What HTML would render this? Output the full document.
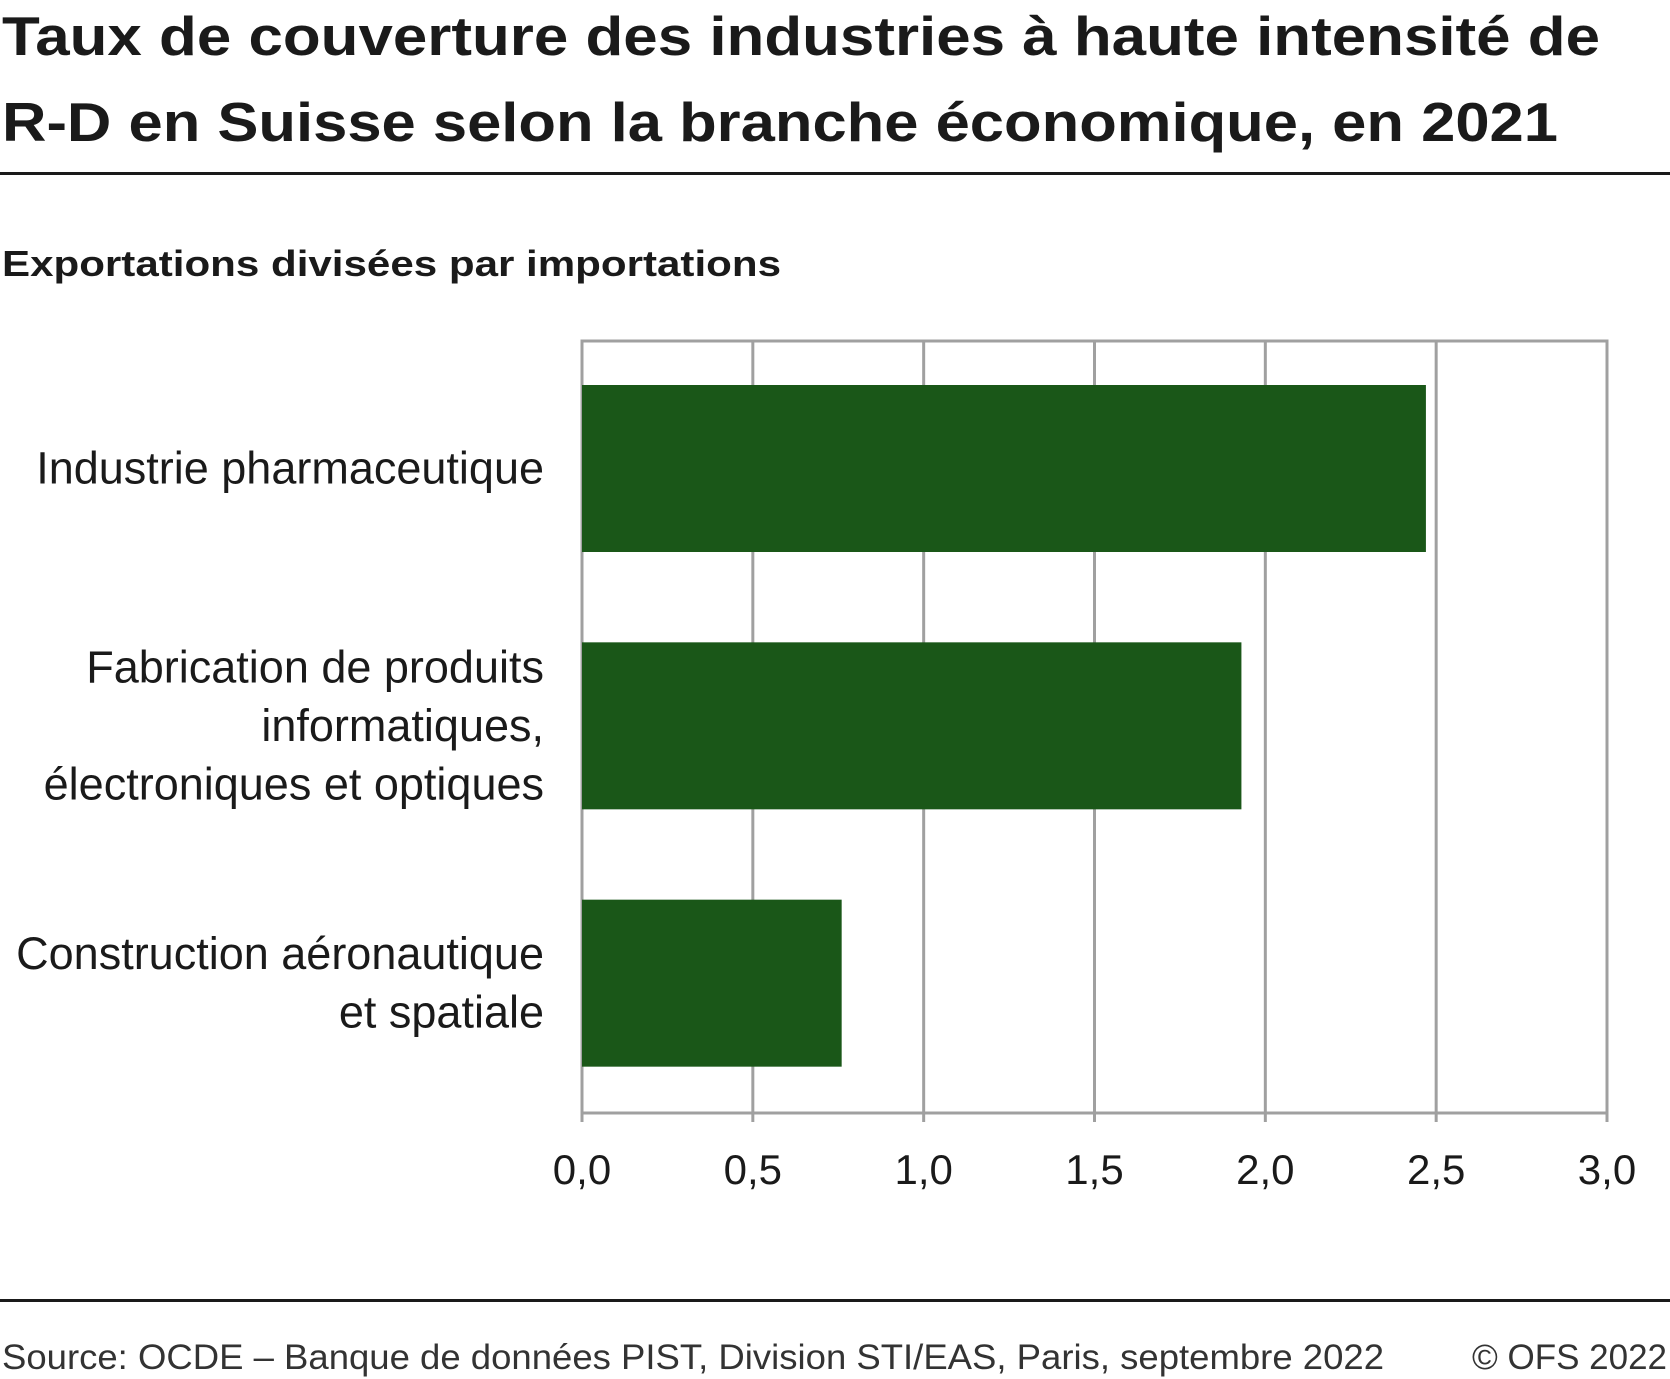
<!DOCTYPE html>
<html><head><meta charset="utf-8"><style>body{margin:0;background:#fff}svg{display:block}</style></head>
<body>
<svg id="chart" width="1670" height="1379" xmlns="http://www.w3.org/2000/svg" font-family="'Liberation Sans', sans-serif">
<text x="2" y="55" font-size="55" font-weight="bold" fill="#1a1a1a" textLength="1598" lengthAdjust="spacingAndGlyphs">Taux de couverture des industries à haute intensité de</text>
<text x="2" y="141" font-size="55" font-weight="bold" fill="#1a1a1a" textLength="1556" lengthAdjust="spacingAndGlyphs">R-D en Suisse selon la branche économique, en 2021</text>
<rect x="0" y="172" width="1670" height="3" fill="#1a1a1a"/>
<text x="2" y="276" font-size="36" font-weight="bold" fill="#1a1a1a" textLength="779" lengthAdjust="spacingAndGlyphs">Exportations divisées par importations</text>
<g id="grid"></g>
<g id="bars"></g>
<g id="labels"></g>
<g id="ticks"></g>
<rect x="0" y="1299" width="1670" height="3" fill="#1a1a1a"/>
<text x="2" y="1369" font-size="35" fill="#333" textLength="1382" lengthAdjust="spacingAndGlyphs">Source: OCDE – Banque de données PIST, Division STI/EAS, Paris, septembre 2022</text>
<text x="1667" y="1369" font-size="35" fill="#333" text-anchor="end">© OFS 2022</text>
</svg>
<script>
const categories = [["Industrie pharmaceutique"],["Fabrication de produits","informatiques,","électroniques et optiques"],["Construction aéronautique","et spatiale"]];
const values = [2.47, 1.93, 0.76];
const tickValues = [0, 0.5, 1, 1.5, 2, 2.5, 3];
const tickLabels = ["0,0","0,5","1,0","1,5","2,0","2,5","3,0"];
const NS="http://www.w3.org/2000/svg";
const x0=582, x1=1607, plotTop=341, plotBottom=1113;
const xs=v=>x0+(v-0)/(3-0)*(x1-x0);
const band=(plotBottom-plotTop)/categories.length;
function mk(t,a,p){const e=document.createElementNS(NS,t);for(const k in a)e.setAttribute(k,a[k]);p.appendChild(e);return e;}
const grid=document.getElementById('grid'), bars=document.getElementById('bars'), labels=document.getElementById('labels'), ticks=document.getElementById('ticks');
tickValues.forEach((v,i)=>{
  const l=mk('line',{x1:xs(v),x2:xs(v),y1:plotTop,y2:plotBottom+9,stroke:'#a0a0a0','stroke-width':3},grid);
  
  
  const t=mk('text',{x:xs(v),y:1184,'font-size':42,fill:'#1a1a1a','text-anchor':'middle'},ticks);
  t.textContent=tickLabels[i];
  
  
});
const b=mk('line',{x1:x0-1.5,x2:x1+1.5,y1:plotBottom,y2:plotBottom,stroke:'#a0a0a0','stroke-width':3},grid);


const tl=mk('line',{x1:x0-1.5,x2:x1+1.5,y1:plotTop,y2:plotTop,stroke:'#a0a0a0','stroke-width':3},grid);


values.forEach((v,i)=>{
  const y=plotTop+i*band+44, h=167;
  const r=mk('rect',{x:x0,y:y,width:xs(v)-x0,height:h,fill:'#1a5718'},bars);
  
  
  const lines=categories[i], lh=58.5, cy=y+h/2;
  lines.forEach((s,j)=>{
    const t=mk('text',{x:544,y:cy+(j-(lines.length-1)/2)*lh+15,'font-size':45,fill:'#1a1a1a','text-anchor':'end'},labels);
    t.textContent=s;
    
    
  });
});
</script>
</body></html>
